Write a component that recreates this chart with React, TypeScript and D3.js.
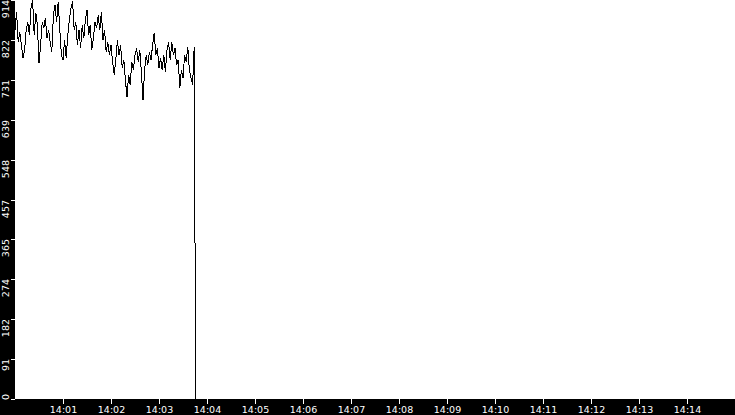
import { useEffect } from "react";
import * as d3 from "d3";

// samples every 2 s starting at 14:00:00
const startTime = new Date(2020, 0, 1, 14, 0, 0);
const endTime = new Date(2020, 0, 1, 14, 15, 0);
const sampleStepSec = 2;

const values = [
  846, 887, 818, 841, 811, 782, 800, 846, 864, 834,
  896, 914, 834, 885, 857, 770, 811, 864, 850, 873,
  827, 846, 818, 795, 880, 903, 864, 910, 846, 788,
  777, 823, 782, 834, 869, 896, 912, 846, 864, 811,
  846, 804, 857, 827, 869, 891, 834, 857, 800, 827,
  864, 850, 880, 846, 887, 823, 846, 795, 818, 788,
  811, 772, 743, 777, 823, 788, 811, 759, 777, 731,
  692, 743, 720, 772, 754, 788, 804, 772, 800, 750,
  685, 754, 788, 766, 795, 777, 811, 839, 788, 804,
  759, 782, 754, 788, 750, 800, 818, 777, 818, 788,
  804, 766, 777, 713, 754, 736, 788, 772, 807, 754,
  736, 720, 807,
];
// last two samples after the drop
const tailValues = [357, 0];

const yMax = 914.4;
const yTickLabels = ["0", "91", "182", "274", "365", "457", "548", "639", "731", "822", "914"];
const xTickLabels = [
  "14:01", "14:02", "14:03", "14:04", "14:05", "14:06", "14:07",
  "14:08", "14:09", "14:10", "14:11", "14:12", "14:13", "14:14",
];

const W = 735;
const H = 415;
const margin = { left: 15, bottom: 16 };
const FONT = "'DejaVu Sans', sans-serif";

export default function App() {
  useEffect(() => {
    document.body.style.margin = "0";
    document.body.style.background = "#000";
  }, []);

  const plotBottom = H - margin.bottom;

  const x = d3.scaleTime().domain([startTime, endTime]).range([margin.left, W]);
  const y = d3.scaleLinear().domain([0, yMax]).range([plotBottom, 0]);

  const allValues = values.concat(tailValues);
  const data = allValues.map((v, i) => ({
    t: new Date(startTime.getTime() + i * sampleStepSec * 1000),
    v,
  }));
  // the drop happens one second apart
  const n = values.length;
  data[n].t = new Date(startTime.getTime() + ((n - 1) * sampleStepSec + 1) * 1000);
  data[n + 1].t = new Date(startTime.getTime() + ((n - 1) * sampleStepSec + 2) * 1000);

  const line = d3
    .line<{ t: Date; v: number }>()
    .x((d) => x(d.t))
    .y((d) => y(d.v));

  const xTicks = xTickLabels.map((lab) => {
    const [hh, mm] = lab.split(":").map(Number);
    return { lab, t: new Date(2020, 0, 1, hh, mm, 0) };
  });

  const yTicks = yTickLabels.map((lab, i) => ({ lab, v: (yMax * i) / 10 }));

  return (
    <svg width={W} height={H} style={{ display: "block" }} fontFamily={FONT}>
      <rect x={0} y={0} width={W} height={H} fill="#000" />
      <rect x={margin.left} y={0} width={W - margin.left} height={plotBottom} fill="#fff" />

      <path
        d={line(data) || ""}
        fill="none"
        stroke="#000"
        strokeWidth={1}
        shapeRendering="crispEdges"
      />

      {yTicks.map((d, i) => {
        const ty = Math.round(y(d.v)) + 0.5;
        const first = i === 0;
        return (
          <g key={d.lab}>
            <line x1={11} x2={margin.left} y1={ty} y2={ty} stroke="#fff" strokeWidth={1} />
            <text
              transform={`translate(9,${first ? plotBottom + 1 : Math.round(y(d.v))}) rotate(-90)`}
              textAnchor={first ? "start" : "end"}
              fill="#fff"
              fontSize={9.5}
            >
              {d.lab}
            </text>
          </g>
        );
      })}

      {xTicks.map((d) => {
        const tx = Math.round(x(d.t)) + 0.5;
        return (
          <g key={d.lab}>
            <line x1={tx} x2={tx} y1={plotBottom} y2={plotBottom + 5} stroke="#fff" strokeWidth={1} />
            <text x={tx} y={413} textAnchor="middle" fill="#fff" fontSize={9.5}>
              {d.lab}
            </text>
          </g>
        );
      })}
    </svg>
  );
}
